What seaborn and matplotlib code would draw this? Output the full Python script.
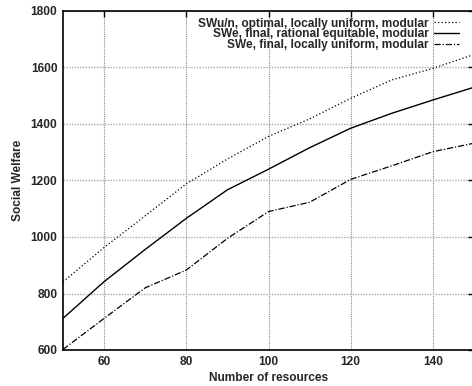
import matplotlib
matplotlib.use("Agg")
import matplotlib.pyplot as plt
import pandas as pd
import seaborn as sns

# values
resources = [50, 60, 70, 80, 90, 100, 110, 120, 130, 140, 150]
sw_optimal = [841, 963, 1075, 1188, 1276, 1356, 1418, 1491, 1556, 1597, 1646]
sw_rational = [712, 842, 956, 1066, 1167, 1240, 1316, 1385, 1438, 1485, 1530]
sw_local = [602, 712, 820, 883, 995, 1090, 1123, 1204, 1252, 1302, 1332]

labels = [
    "SWu/n, optimal, locally uniform, modular",
    "SWe, final, rational equitable, modular",
    "SWe, final, locally uniform, modular",
]
x_ticks = [60, 80, 100, 120, 140]
y_ticks = [600, 800, 1000, 1200, 1400, 1600, 1800]

sns.set_style("white")
plt.rcParams["font.family"] = ["Liberation Sans", "DejaVu Sans"]
plt.rcParams["font.weight"] = "bold"

fs = 8.6
fig = plt.figure(figsize=(4.72, 3.86), dpi=100)
W, H = 472, 386
ax = fig.add_axes([63 / W, 36 / H, (474 - 63) / W, 339 / H])

df = pd.DataFrame({"x": resources, "a": sw_optimal, "b": sw_rational, "c": sw_local})

sns.lineplot(data=df, x="x", y="a", ax=ax, color="black", lw=0.9,
             linestyle=(0, (1, 1.8)), label=labels[0])
sns.lineplot(data=df, x="x", y="b", ax=ax, color="black", lw=1.0,
             label=labels[1])
sns.lineplot(data=df, x="x", y="c", ax=ax, color="black", lw=0.9,
             linestyle=(0, (5, 1.5, 1, 1.5)), label=labels[2])

ax.set_xlim(50, 150)
ax.set_ylim(600, 1800)
ax.set_xticks(x_ticks)
ax.set_yticks(y_ticks)
# horizontal grid a bit lighter than the vertical one, as in the reference
ax.grid(True, axis="x", color="#888888", linestyle=(0, (1, 1)), linewidth=0.8)
ax.grid(True, axis="y", color="#aaaaaa", linestyle=(0, (1, 1)), linewidth=1.0)
ax.tick_params(direction="in", length=4, width=1, labelsize=fs,
               top=True, right=True, pad=4, color="black")
for lab in ax.get_xticklabels() + ax.get_yticklabels():
    lab.set_fontweight("bold")
for side in ["left", "bottom", "top"]:
    ax.spines[side].set_color("black")
    ax.spines[side].set_linewidth(1.2)
ax.spines["right"].set_visible(False)

ax.set_xlabel("Number of resources", fontsize=fs, fontweight="bold", labelpad=3)
ax.set_ylabel("Social Welfare", fontsize=fs, fontweight="bold", labelpad=5)

leg = ax.legend(loc="upper right", bbox_to_anchor=(0.985, 1.005), frameon=False,
                markerfirst=False, fontsize=fs, labelspacing=-0.12,
                handlelength=2.1, handletextpad=0.5, borderpad=0.2)
for t in leg.get_texts():
    t.set_fontweight("bold")

fig.savefig("out.png", dpi=100)
